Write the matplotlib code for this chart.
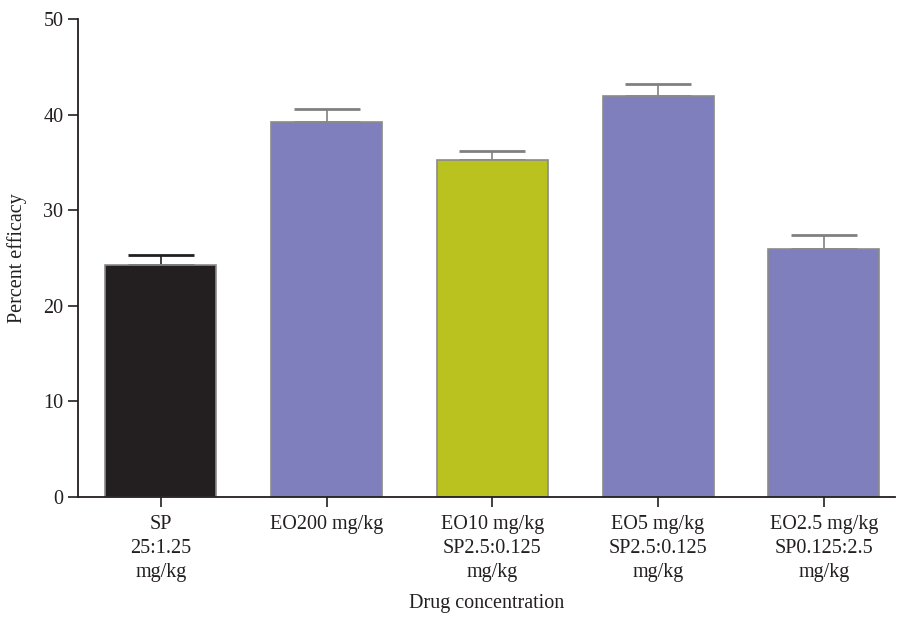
import matplotlib
matplotlib.use("Agg")
import matplotlib.pyplot as plt
import numpy as np

categories = ["SP\n25:1.25\nmg/kg", "EO200 mg/kg", "EO10 mg/kg\nSP2.5:0.125\nmg/kg",
              "EO5 mg/kg\nSP2.5:0.125\nmg/kg", "EO2.5 mg/kg\nSP0.125:2.5\nmg/kg"]
values = [24.3, 39.2, 35.2, 41.9, 25.9]
errors = [1.0, 1.4, 1.0, 1.3, 1.5]
colors = ["#231f20", "#7f7fbd", "#bac21f", "#7f7fbd", "#7f7fbd"]
err_colors = ["#231f20", "#808080", "#808080", "#808080", "#808080"]
yticks = [0, 10, 20, 30, 40, 50]

plt.rcParams['font.family'] = ['Liberation Serif', 'DejaVu Serif']

fig = plt.figure(figsize=(8.97, 6.18), dpi=100)
ax = fig.add_axes([78/897, 1-497/618, (895-78)/897, (497-19)/618])

x = np.arange(len(values))
ax.bar(x, values, width=0.67, color=colors, edgecolor="#8a8a8a", linewidth=1.2, zorder=2)
for xi, v, e, ec in zip(x, values, errors, err_colors):
    ax.errorbar(xi, v, yerr=[[0], [e]], fmt='none', ecolor=ec, elinewidth=1.2,
                capsize=24, capthick=2, zorder=1)

ax.set_xlim(-0.5, 4.43)
ax.set_ylim(0, 50)
ax.set_yticks(yticks)
ax.set_xticks(x)
ax.set_xticklabels(categories, fontsize=14.5, linespacing=1.35)
ax.tick_params(axis='y', labelsize=14.5, direction='out', length=7, width=1.2, colors="#231f20")
ax.tick_params(axis='x', direction='out', length=7, width=1.2, colors="#231f20", pad=6)
for s in ["top", "right"]:
    ax.spines[s].set_visible(False)
for s in ["left", "bottom"]:
    ax.spines[s].set_linewidth(1.3)
    ax.spines[s].set_color("#231f20")

ax.set_ylabel("Percent efficacy", fontsize=14.5, color="#231f20", labelpad=12)
ax.set_xlabel("Drug concentration", fontsize=14.5, color="#231f20", labelpad=9)

fig.savefig("out.png", dpi=100)
